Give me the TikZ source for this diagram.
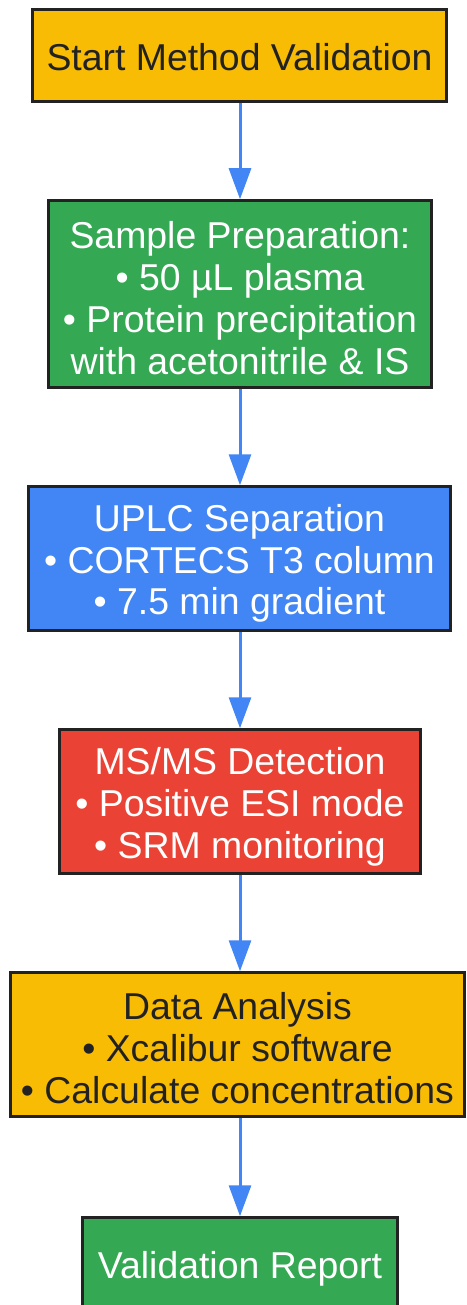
\documentclass[tikz,border=0pt]{standalone}
\usepackage{fontspec}
\setmainfont{Liberation Sans}
\usetikzlibrary{arrows.meta}
\definecolor{gorange}{HTML}{F9BC05}
\definecolor{ggreen}{HTML}{34A853}
\definecolor{gblue}{HTML}{4285F4}
\definecolor{gred}{HTML}{EA4335}
\definecolor{bordc}{HTML}{222222}
\definecolor{txtdark}{HTML}{222222}
\tikzset{
  box/.style={draw=bordc, line width=2.5pt, rectangle, inner sep=0pt},
  txt/.style={align=center, inner sep=0pt, font=\fontsize{37.4pt}{41.8pt}\selectfont},
  lighttxt/.style={txt, text=white},
  darktxt/.style={txt, text=txtdark},
  conn/.style={draw=gblue, line width=3pt, -{Triangle[width=22pt,length=31pt]}}
}
\begin{document}
\begin{tikzpicture}[x=1pt,y=-1pt]
\useasboundingbox (0,0) rectangle (466,1305);
\node[box, fill=gorange, minimum width=414pt, minimum height=92pt] (n1) at (239.5,55.5) {};
\node[darktxt] (t1) at ([yshift=-2pt]n1.center) {Start Method Validation};
\node[box, fill=ggreen, minimum width=383pt, minimum height=187pt] (n2) at (240,294) {};
\node[lighttxt] (t2) at ([yshift=-4pt]n2.center) {Sample Preparation:\\• 50 µL plasma\\• Protein precipitation\\with acetonitrile \& IS};
\node[box, fill=gblue, minimum width=422pt, minimum height=144pt] (n3) at (239.5,558.5) {};
\node[lighttxt] (t3) at ([yshift=-5pt]n3.center) {UPLC Separation\\• CORTECS T3 column\\• 7.5 min gradient};
\node[box, fill=gred, minimum width=361pt, minimum height=144pt] (n4) at (240,801.5) {};
\node[lighttxt] (t4) at ([yshift=-5.5pt]n4.center) {MS/MS Detection\\• Positive ESI mode\\• SRM monitoring};
\node[box, fill=gorange, minimum width=454pt, minimum height=144pt] (n5) at (237.5,1044.5) {};
\node[darktxt] (t5) at ([yshift=-3.5pt]n5.center) {Data Analysis\\• Xcalibur software\\• Calculate concentrations};
\node[box, fill=ggreen, minimum width=315pt, minimum height=92pt] (n6) at (240,1263.5) {};
\node[lighttxt] (t6) at ([yshift=-5pt]n6.center) {Validation Report};
\draw[conn] (n1.south -| 240,0) -- (n2.north -| 240,0);
\draw[conn] (n2.south -| 240,0) -- (n3.north -| 240,0);
\draw[conn] (n3.south -| 240,0) -- (n4.north -| 240,0);
\draw[conn] (n4.south -| 240,0) -- (n5.north -| 240,0);
\draw[conn] (n5.south -| 240,0) -- (n6.north -| 240,0);
\end{tikzpicture}
\end{document}
